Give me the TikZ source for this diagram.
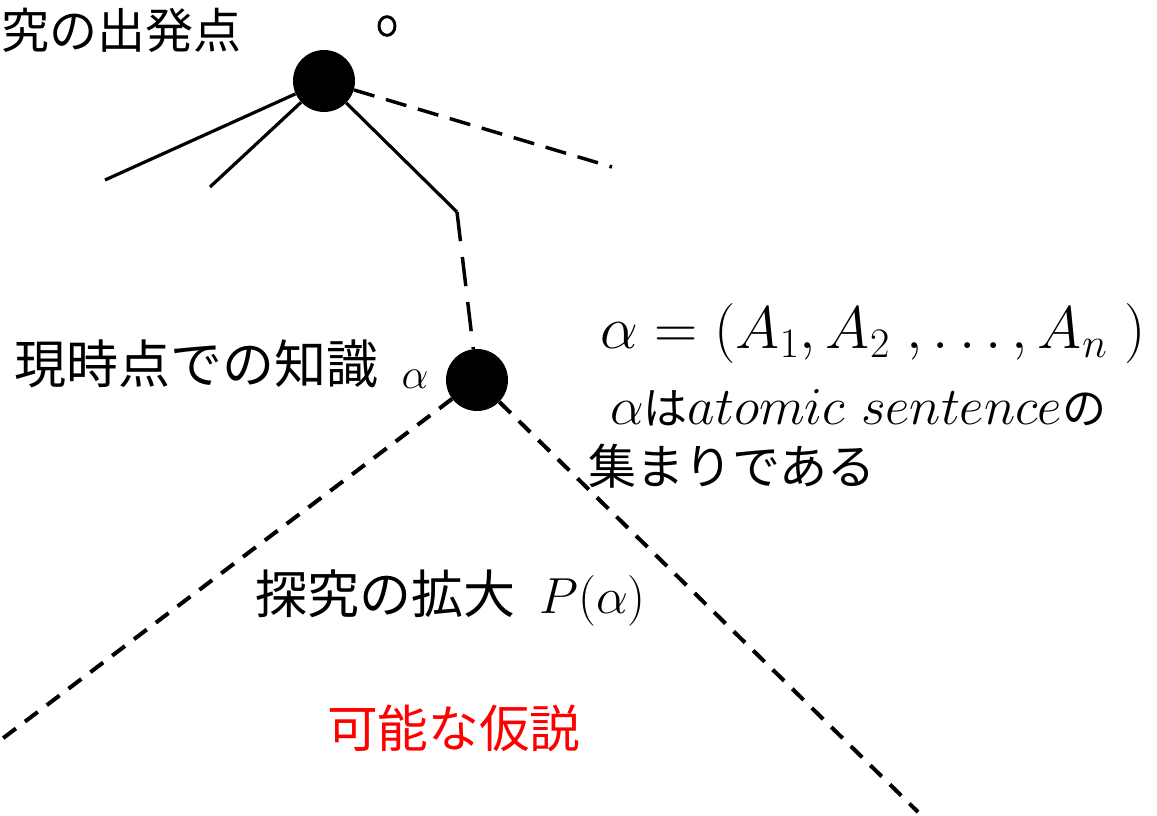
\RequirePackage{fix-cm}
\documentclass[tikz,border=0pt]{standalone}
\usepackage{fontspec}
\usetikzlibrary{shapes.geometric}
\newfontfamily\jp{Noto Sans CJK JP}
\definecolor{hypred}{RGB}{255,0,0}
\begin{document}
\begin{tikzpicture}[x=0.75pt,y=-0.75pt,
  dot/.style={circle,fill=black,minimum size=46.5pt,inner sep=0pt},
  ring/.style={ellipse,draw=black,line width=2.2pt,minimum width=12pt,minimum height=14pt,inner sep=0pt},
  solidline/.style={line width=2.4pt},
  updash/.style={line width=2.6pt,dash pattern=on 16pt off 9pt},
  vdash/.style={line width=2.6pt,dash pattern=on 22pt off 12pt},
  lowdash/.style={line width=3pt,dash pattern=on 12pt off 8.5pt},
  lbl/.style={inner sep=0pt,anchor=west},
  jpfont/.style={font=\jp\fontsize{#1}{#1}\selectfont}
]
\useasboundingbox (0,0) rectangle (1157,816);

% dots
\node[dot] (d1) at (324,81) {};
\node[dot] (d2) at (477,380) {};
\node[ring] (o) at (387,26) {};

% free ends
\coordinate (e1) at (105,180);
\coordinate (e2) at (210,187);
\coordinate (k) at (457,212);
\coordinate (e4) at (612,167);
\coordinate (e5) at (-2,742);
\coordinate (e6) at (918,812);

% connectors
\draw[solidline] (d1) -- (e1);
\draw[solidline] (d1) -- (e2);
\draw[solidline] (d1) -- (k);
\draw[vdash] (k) -- (d2);
\draw[updash] (d1) -- (e4);
\draw[lowdash] (d2) -- (e5);
\draw[lowdash] (d2) -- (e6);

% labels
\node[lbl,jpfont=36pt] (t1) at (1,30) {究の出発点};
\node[lbl,jpfont=39pt] (t2) at (14,364) {現時点での知識};
\node[inner sep=0pt] (al) at (415,379) {\fontsize{32pt}{32pt}\selectfont$\alpha$};
\node[lbl] (eq) at (600,334) {\fontsize{45pt}{45pt}\selectfont$\alpha = (A_1, A_2\;, \ldots, A_n\;)$};
\node[lbl] (desc) at (610,408) {\fontsize{40pt}{40pt}\selectfont$\alpha${\jp\fontsize{33pt}{33pt}\selectfont は}$atomic\ sentence${\jp\fontsize{33pt}{33pt}\selectfont の}};
\node[lbl,jpfont=36pt] (t3) at (588,466) {集まりである};
\node[lbl] (t4) at (255,598) {{\jp\fontsize{39pt}{39pt}\selectfont 探究の拡大}\hspace{18pt}\fontsize{38pt}{38pt}\selectfont$P(\alpha)$};
\node[lbl,jpfont=38pt,text=hypred] (t5) at (327,728) {可能な仮説};
\end{tikzpicture}
\end{document}
